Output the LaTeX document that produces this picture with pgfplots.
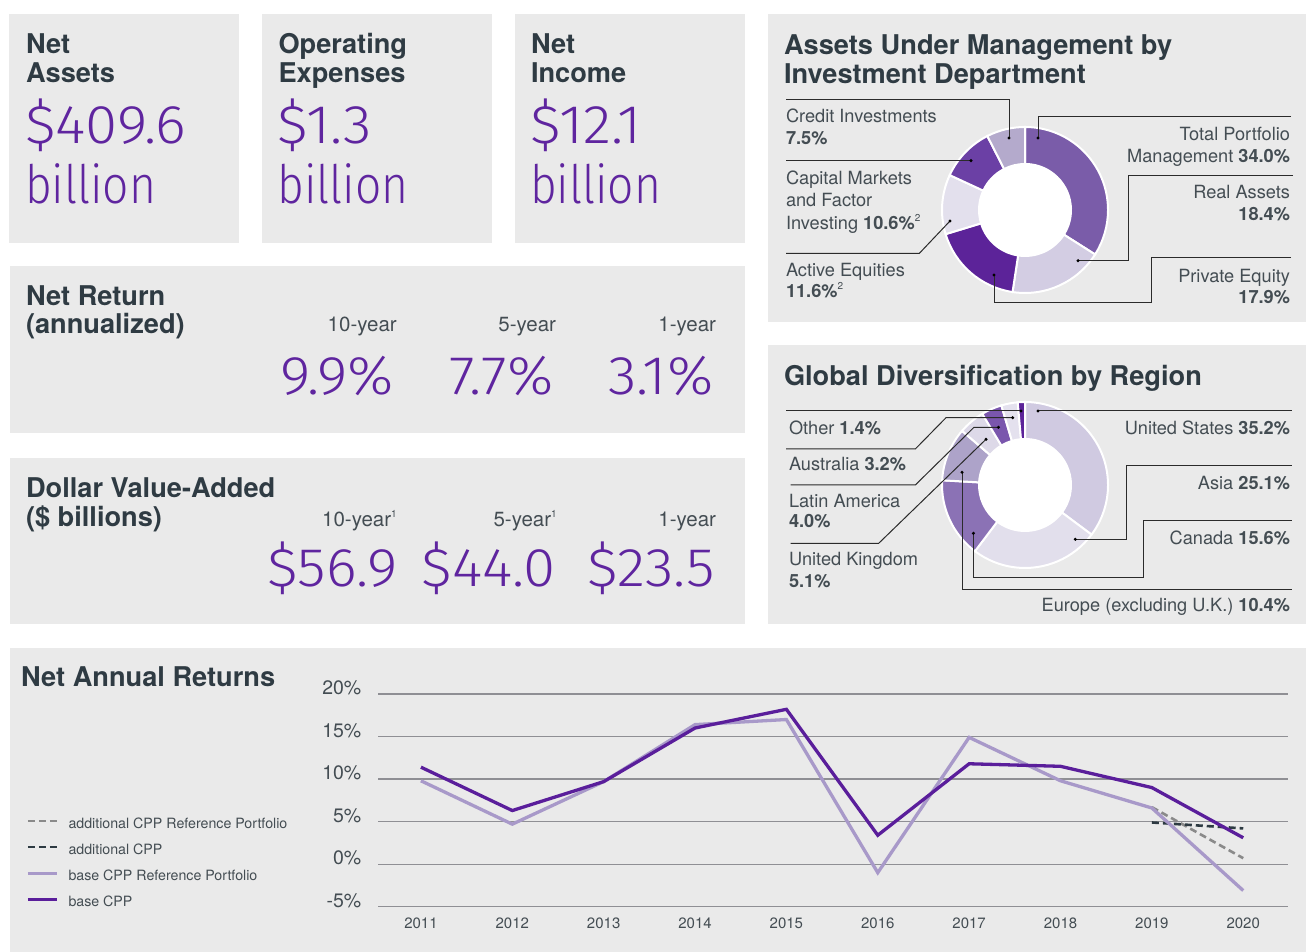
\documentclass[border=0pt]{standalone}
\usepackage{pgfplots}
\pgfplotsset{compat=1.18}
\usepackage{fontspec}
\setmainfont{TeX Gyre Heros}
\newfontfamily\lightnum{Fira Sans Light}[FakeStretch=1.07]
\newfontfamily\lightword{Fira Sans Light}[FakeStretch=0.87]
\newcommand\sz[1]{\fontsize{#1}{#1}\selectfont}
\newcommand\sups[1]{\raisebox{0.45em}{\sz{10}#1}}
\definecolor{panel}{HTML}{EAEAEA}
\definecolor{titlec}{HTML}{2F3B43}
\definecolor{labc}{HTML}{444D53}
\definecolor{purp}{HTML}{5F259F}
\definecolor{leadc}{HTML}{2B2B2B}
\definecolor{basec}{HTML}{5A1E9B}
\definecolor{refc}{HTML}{A899C9}
\definecolor{addref}{HTML}{8A8A8A}
\definecolor{addcpp}{HTML}{2D3A42}
\definecolor{gridc}{HTML}{8F8F94}
% AUM donut colours
\definecolor{aTPM}{HTML}{7A5CA9}
\definecolor{aRA}{HTML}{D3CDE3}
\definecolor{aPE}{HTML}{5C2399}
\definecolor{aAE}{HTML}{E3E0ED}
\definecolor{aCM}{HTML}{6B40A5}
\definecolor{aCI}{HTML}{B4AACC}
% Region donut colours
\definecolor{gUS}{HTML}{D0CAE1}
\definecolor{gAS}{HTML}{E2DFEC}
\definecolor{gCA}{HTML}{8B72B5}
\definecolor{gEU}{HTML}{ADA3C9}
\definecolor{gUK}{HTML}{DDD9E8}
\definecolor{gLA}{HTML}{7A56AD}
\definecolor{gAU}{HTML}{E4E1EE}
\definecolor{gOT}{HTML}{5C2399}
% donut segment: start (%), value (%), colour
\newcommand\seg[3]{%
 \path[fill=#3, draw=white, line width=2pt]
  ([shift={(axis cs:0,0)}]canvas polar cs:angle={90-3.6*(#1)},radius=83pt)
  arc[start angle={90-3.6*(#1)}, end angle={90-3.6*(#1+#2)}, radius=83pt]
  -- ([shift={(axis cs:0,0)}]canvas polar cs:angle={90-3.6*(#1+#2)},radius=46pt)
  arc[start angle={90-3.6*(#1+#2)}, end angle={90-3.6*(#1)}, radius=46pt]
  -- cycle;}
\begin{document}
\begin{tikzpicture}
\useasboundingbox (0,0) rectangle (1306pt,952pt);
\fill[white] (0,0) rectangle (1306pt,952pt);
\begin{scope}[x=1pt,y=1pt,shift={(0,952)}, yscale=-1]
\fill[panel] (9,14) rectangle (239,243.5);
\fill[panel] (262,14) rectangle (491.5,243.5);
\fill[panel] (514.5,14) rectangle (745,243.5);
\fill[panel] (768,14) rectangle (1306,322);
\fill[panel] (10,266) rectangle (745,433);
\fill[panel] (10,458) rectangle (745,624);
\fill[panel] (768,345) rectangle (1306,624);
\fill[panel] (10,648) rectangle (1306,952);
\end{scope}

% ---------- donut: AUM by department ----------
\begin{axis}[at={(942pt,659pt)}, anchor=south west, scale only axis,
  width=166pt, height=166pt, xmin=-83, xmax=83, ymin=-83, ymax=83,
  hide axis, clip=false]
\seg{0}{34.0}{aTPM}
\seg{34.0}{18.4}{aRA}
\seg{52.4}{17.9}{aPE}
\seg{70.3}{11.6}{aAE}
\seg{81.9}{10.6}{aCM}
\seg{92.5}{7.5}{aCI}
\fill[white] (axis cs:0,0) circle[radius=46pt];
\end{axis}

% ---------- donut: region ----------
\begin{axis}[at={(942pt,384pt)}, anchor=south west, scale only axis,
  width=166pt, height=166pt, xmin=-83, xmax=83, ymin=-83, ymax=83,
  hide axis, clip=false]
\seg{0}{35.2}{gUS}
\seg{35.2}{25.1}{gAS}
\seg{60.3}{15.6}{gCA}
\seg{75.9}{10.4}{gEU}
\seg{86.3}{5.1}{gUK}
\seg{91.4}{4.0}{gLA}
\seg{95.4}{3.2}{gAU}
\seg{98.6}{1.4}{gOT}
\fill[white] (axis cs:0,0) circle[radius=46pt];
\end{axis}

% ---------- line chart (x = 0..9 for 2011..2020) ----------
\begin{axis}[at={(378pt,45.3pt)}, anchor=south west, scale only axis,
  width=910pt, height=212.7pt,
  xmin=-0.47, xmax=9.49, ymin=-5, ymax=20,
  axis line style={draw=none}, major tick length=0pt, tick style={draw=none},
  ytick={-5,0,5,10,15,20}, yticklabels={-5\%,0\%,5\%,10\%,15\%,20\%},
  xtick={0,1,2,3,4,5,6,7,8,9},
  xticklabels={2011,2012,2013,2014,2015,2016,2017,2018,2019,2020},
  ymajorgrids, grid style={color=gridc, line width=1.3pt},
  yticklabel style={font=\sz{19.5}, text=labc, anchor=east, inner sep=0pt, xshift=-16.5pt, yshift=6pt},
  xticklabel style={font=\sz{15}, text=labc, anchor=north, inner sep=0pt, yshift=-11pt},
  clip=false,
  legend style={at={(rel axis cs:-0.3868,0.417)}, anchor=north west, draw=none, fill=none,
    font=\sz{14.2}, text=labc, row sep=13pt, column sep=10pt, inner sep=0pt,
    nodes={inner sep=0pt, text height=10pt, text depth=3pt}},
  legend cell align=left,
  legend image code/.code={\draw[#1] (0pt,3.5pt) -- (29pt,3.5pt);},
  ]
\addplot[addref, line width=2.6pt, dash pattern=on 7pt off 4pt] coordinates {(8,6.7) (9,0.7)};
\addlegendentry{additional CPP Reference Portfolio}
\addplot[addcpp, line width=2.6pt, dash pattern=on 7pt off 4pt] coordinates {(8,4.9) (9,4.2)};
\addlegendentry{additional CPP}
\addplot[refc, line width=3.3pt] coordinates {(0,9.8) (1,4.7) (2,9.7) (3,16.4) (4,17.0) (5,-1.0) (6,14.9) (7,9.8) (8,6.6) (9,-3.1)};
\addlegendentry{base CPP Reference Portfolio}
\addplot[basec, line width=3.3pt] coordinates {(0,11.4) (1,6.3) (2,9.7) (3,16.0) (4,18.2) (5,3.4) (6,11.8) (7,11.5) (8,9.0) (9,3.1)};
\addlegendentry{base CPP}
\end{axis}

\begin{scope}[x=1pt,y=1pt,shift={(0,952)}, yscale=-1,
  every node/.style={inner sep=0pt, outer sep=0pt},
  tit/.style={font=\bfseries\sz{27.2}, text=titlec, anchor=base west},
  big/.style={font=\lightnum\sz{54.5}, text=purp, anchor=base west},
  bigw/.style={font=\lightword\sz{53}, text=purp, anchor=base west},
  bigr/.style={font=\lightnum\sz{54.5}, text=purp, anchor=base east},
  yr/.style={font=\sz{20.5}, text=labc, anchor=base east},
  labl/.style={font=\sz{18.2}, text=labc, anchor=base west},
  labr/.style={font=\sz{18.2}, text=labc, anchor=base east},
  ld/.style={leadc, line width=1pt}]
% top three panels
\node[tit] at (26,54) {Net};
\node[tit] at (26,82.5) {Assets};
\node[big] at (25,144) {\$409.6};
\node[bigw] at (25,204) {billion};
\node[tit] at (278.5,54) {Operating};
\node[tit] at (278.5,82.5) {Expenses};
\node[big] at (277.5,144) {\$1.3};
\node[bigw] at (277.5,204) {billion};
\node[tit] at (531,54) {Net};
\node[tit] at (531,82.5) {Income};
\node[big] at (530,144) {\$12.1};
\node[bigw] at (530,204) {billion};
% net return
\node[tit] at (26,305.7) {Net Return};
\node[tit] at (26,334) {(annualized)};
\node[yr] at (396.7,331.7) {10-year};
\node[yr] at (556,331.7) {5-year};
\node[yr] at (716,331.7) {1-year};
\node[bigr] at (394,394.3) {9.9\%};
\node[bigr] at (554,394.3) {7.7\%};
\node[bigr] at (713.3,394.3) {3.1\%};
% dollar value added
\node[tit] at (26,497.3) {Dollar Value-Added};
\node[tit] at (26,526.7) {(\$ billions)};
\node[yr] at (396.7,526.7) {10-year\sups{1}};
\node[yr] at (556.7,526.7) {5-year\sups{1}};
\node[yr] at (716,526.7) {1-year};
\node[bigr] at (397.3,586.5) {\$56.9};
\node[bigr] at (556,586.5) {\$44.0};
\node[bigr] at (715,586.5) {\$23.5};
% AUM panel
\node[tit] at (784,55) {Assets Under Management by};
\node[tit] at (784,84) {Investment Department};
\node[labl] at (786,122.3) {Credit Investments};
\node[labl] at (786,145) {\textbf{7.5\%}};
\node[labl] at (786,185) {Capital Markets};
\node[labl] at (786,206.7) {and Factor};
\node[labl] at (786,229.3) {Investing \textbf{10.6\%}\sups{2}};
\node[labl] at (786,276.7) {Active Equities};
\node[labl] at (786,297.3) {\textbf{11.6\%}\sups{2}};
\node[labr] at (1290,140.7) {Total Portfolio};
\node[labr] at (1290,162.7) {Management \textbf{34.0\%}};
\node[labr] at (1290,199) {Real Assets};
\node[labr] at (1290,220.7) {\textbf{18.4\%}};
\node[labr] at (1290,282.3) {Private Equity};
\node[labr] at (1290,303.3) {\textbf{17.9\%}};
\draw[ld] (786,99.3) -- (1009,99.3) -- (1009,138);
\draw[ld] (1291,116.7) -- (1038,116.7) -- (1038,138);
\draw[ld] (1293,175.3) -- (1128,175.3) -- (1128,260.7) -- (1078,260.7);
\draw[ld] (1291,257.7) -- (1151.7,257.7) -- (1151.7,302.7) -- (994,302.7) -- (994,275);
\draw[ld] (786,160.7) -- (971,160.7);
\draw[ld] (786,253.3) -- (919.4,253.3) -- (950,221);
\foreach \p in {(1009,138),(1038,138),(1078,260.7),(994,275),(971,160.7),(950,221)}
  \fill[black] \p circle (1.7pt);
% region panel
\node[tit] at (784,386) {Global Diversification by Region};
\node[labl] at (789,434.3) {Other \textbf{1.4\%}};
\node[labl] at (789,471) {Australia \textbf{3.2\%}};
\node[labl] at (789,507.7) {Latin America};
\node[labl] at (789,527.7) {\textbf{4.0\%}};
\node[labl] at (789,566) {United Kingdom};
\node[labl] at (789,587.7) {\textbf{5.1\%}};
\node[labr] at (1290,434.3) {United States \textbf{35.2\%}};
\node[labr] at (1290,490) {Asia \textbf{25.1\%}};
\node[labr] at (1290,544.3) {Canada \textbf{15.6\%}};
\node[labr] at (1290,611.7) {Europe (excluding U.K.) \textbf{10.4\%}};
\draw[ld] (786,411) -- (1021,411);
\draw[ld] (1038,411) -- (1292,411);
\draw[ld] (786,449) -- (915.3,449) -- (946,417.7) -- (1012.7,417.7);
\draw[ld] (790.5,485) -- (915.3,485) -- (974,427.3) -- (998.4,427.3);
\draw[ld] (790.5,543.3) -- (878.7,543.3) -- (986,439.3);
\draw[ld] (962,472.3) -- (962,589.3) -- (1292,589.3);
\draw[ld] (973.4,533.3) -- (973.4,577.7) -- (1143.3,577.7) -- (1143.3,521) -- (1292,521);
\draw[ld] (1075.3,539.3) -- (1126.6,539.3) -- (1126.6,466) -- (1292,466);
\foreach \p in {(1021,411),(1038,411),(1012.7,417.7),(998.4,427.3),(986,439.3),(962,472.3),(973.4,533.3),(1075.3,539.3)}
  \fill[black] \p circle (1.7pt);
% line chart title
\node[tit] at (21,687) {Net Annual Returns};
\end{scope}
\end{tikzpicture}
\end{document}
